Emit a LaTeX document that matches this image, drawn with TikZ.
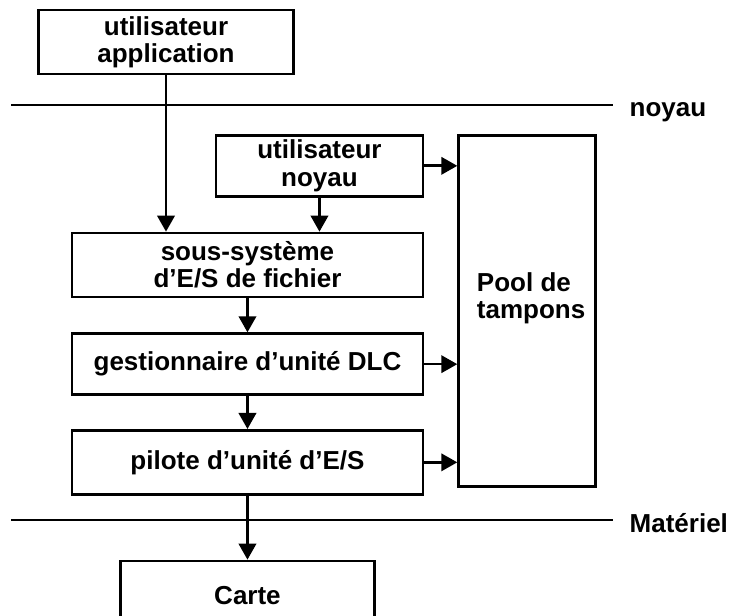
\documentclass[tikz,border=0pt]{standalone}
\usepackage{fontspec}
\setmainfont{Liberation Sans}
\usepackage{tikz}
\usetikzlibrary{arrows.meta, positioning}

\begin{document}
\begin{tikzpicture}[font=\fontsize{19.5}{20.5}\selectfont\bfseries,
    bloc/.style={draw,line width=2pt,align=center,inner sep=0pt},
    fleche/.style={-{Triangle[length=12pt,width=13pt]},line width=2pt},
    limite/.style={line width=1pt}]
  \useasboundingbox (0,0) rectangle (549pt,-462pt);
  \clip (0,0) rectangle (549pt,-462pt);
  \node[bloc,minimum width=191.25pt,minimum height=48pt] (app) at (124.5pt,-31.5pt) {utilisateur\\application};
  \node[bloc,minimum width=263.25pt,minimum height=48pt] (fs) at (185.6pt,-198.75pt) {sous-système\\d’E/S de fichier};
  \node[bloc,minimum width=155.25pt,minimum height=45.75pt,above left=25.5pt and 0pt of fs.north east] (un) {utilisateur\\noyau};
  \node[bloc,minimum width=263.25pt,minimum height=45.75pt,below=25.5pt of fs] (dlc) {gestionnaire d’unité DLC};
  \node[bloc,minimum width=263.25pt,minimum height=48pt,below=24.75pt of dlc] (pil) {pilote d’unité d’E/S};
  \node[bloc,minimum width=190.5pt,minimum height=52.5pt,below=48pt of pil] (carte) {Carte};
  \node[bloc,align=left,minimum width=102.75pt,minimum height=263.25pt,right=24.75pt of un.north east,anchor=north west] (pool) {\raisebox{32pt}{\begin{tabular}{@{\hspace{6pt}}l@{}}Pool de\\tampons\end{tabular}}};
  % limites noyau / materiel
  \coordinate (k1) at (8.25pt,-78.75pt);
  \coordinate (k2) at (459.75pt,-78.75pt);
  \coordinate (m1) at (8.25pt,-390pt);
  \coordinate (m2) at (459.75pt,-390pt);
  \draw[limite] (k1) -- (k2);
  \draw[limite] (m1) -- (m2);
  \node[below right=5.75pt and 9pt of k2,anchor=west] (noyau) {noyau};
  \node[below right=2pt and 9pt of m2,anchor=west] (materiel) {Matériel};
  % fleches
  \draw[fleche] (app.south) -- (app.south |- fs.north);
  \draw[fleche] (un.south) -- (un.south |- fs.north);
  \draw[fleche] (fs) -- (dlc);
  \draw[fleche] (dlc) -- (pil);
  \draw[fleche] (pil) -- (carte);
  \draw[fleche] (un) -- (un -| pool.west);
  \draw[fleche] (dlc) -- (dlc -| pool.west);
  \draw[fleche] (pil) -- (pil -| pool.west);
\end{tikzpicture}
\end{document}
